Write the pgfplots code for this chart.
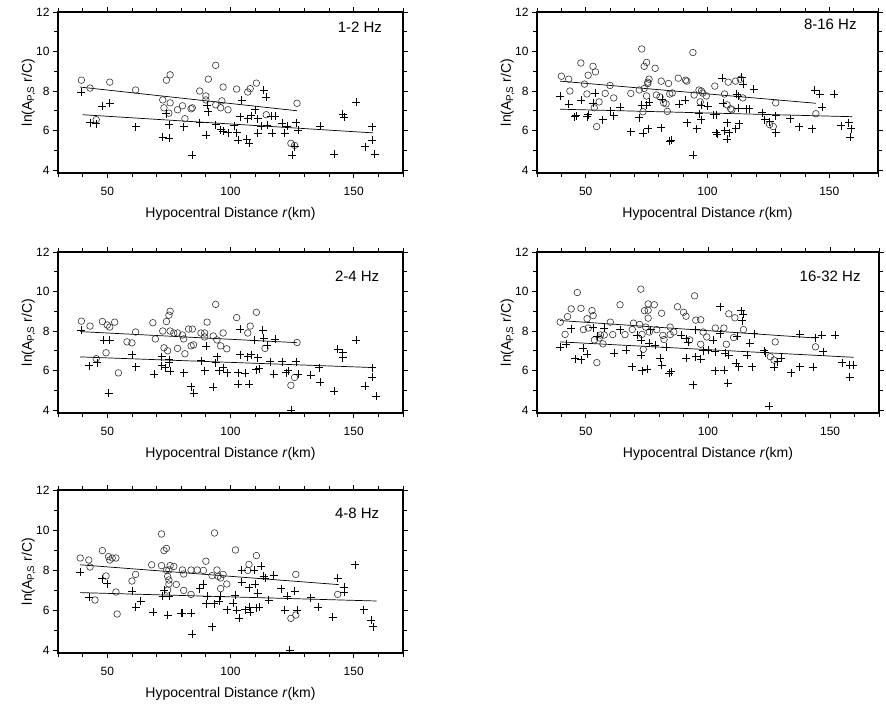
\documentclass[border=0pt]{standalone}
\usepackage{fontspec}
\setmainfont{Liberation Sans}
\usepackage{pgfplots}
\pgfplotsset{compat=1.18}

\pgfplotsset{
  panel/.style={
    scale only axis,
    width=345pt, height=161pt,
    xmin=30, xmax=170, ymin=3.85, ymax=12,
    xtick={50,100,150}, minor xtick={30,40,...,170},
    ytick={4,6,8,10,12}, minor ytick={5,7,9,11},
    tick align=outside,
    major tick length=5pt, minor tick length=4pt,
    axis line style={line width=1.1pt},
    every tick/.style={black, line width=0.8pt},
    tick label style={font=\fontsize{12}{14}\selectfont},
    xticklabel style={yshift=-6pt},
    /pgf/number format/assume math mode=true,
    label style={font=\fontsize{14}{16}\selectfont},
    xlabel={Hypocentral Distance \textit{r}(km)},
    ylabel={ln(A\textsubscript{P,S} r/C)},
    xlabel style={yshift=-4pt},
    ylabel style={yshift=-6pt},
    clip=false,
  },
  circ/.style={only marks, mark=o, mark size=3.3pt, black!80, mark options={line width=0.6pt}},
  crs/.style={only marks, mark=+, mark size=4pt, black, mark options={line width=0.6pt}},
  fitline/.style={no marks, black, line width=0.7pt},
}
\tikzset{hz/.style={font=\fontsize{15}{17}\selectfont, anchor=center}}

\begin{document}
\begin{tikzpicture}
\useasboundingbox (0pt,-706pt) rectangle (886pt,0pt);

% 1-2 Hz
\begin{axis}[panel, at={(58pt,-173pt)}, anchor=origin]
\addplot[circ] coordinates {
(39.5,8.55)(43,8.15)(45.5,6.55)(51,8.45)(61.5,8.05)(74,8.55)(75.5,8.82)(72.5,7.55)(73,7.15)(75.5,7.4)(75,6.88)(78.5,7.05)(80.5,7.25)(81.5,6.6)(84.5,7.15)(84,7.1)(87.5,8.0)(90,7.75)(90,7.55)(91,8.6)(94,9.3)(94,7.3)(96,7.15)(96.5,7.5)(97,8.2)(99,7.05)(102.5,8.1)(107,7.95)(108,8.12)(110.5,8.4)(114.5,6.8)(124.5,5.35)(126,5.25)(127,7.38)
};
\addplot[crs] coordinates {
(39.5,7.95)(43,6.4)(45.5,6.35)(48,7.25)(51,7.4)(61.5,6.2)(72.5,5.68)(75,5.6)(75,6.3)(74,6.85)(81,6.2)(84.5,4.75)(87.5,6.4)(90,5.75)(90.5,7.3)(91,6.95)(94,6.3)(96,6.05)(97,5.98)(99,5.9)(101.5,6.25)(102.5,5.9)(103,5.5)(104.5,7.55)(104,6.7)(106.5,5.58)(107.5,5.35)(107,6.6)(108.5,6.75)(110,7.05)(111,6.6)(112.5,6.23)(111,5.85)(113.5,8.05)(114.5,7.7)(115,6.27)(116.5,6.73)(118,6.73)(117,5.85)(121,6.36)(122,5.85)(123,6.23)(125,4.75)(126.5,6.4)(127.5,6.02)(126,5.18)(136.5,6.23)(142,4.81)(145.5,6.83)(146,6.66)(151,7.45)(154.5,5.18)(157.5,6.2)(157.5,5.52)(158.5,4.81)
};
\addplot[fitline] coordinates {(39,8.2) (127,7.0)};
\addplot[fitline] coordinates {(40,6.8) (158,5.88)};
\node[hz] at (rel axis cs:0.875,0.905) {1-2 Hz};
\end{axis}

% 8-16 Hz
\begin{axis}[panel, width=341pt, at={(537pt,-173pt)}, anchor=origin]
\addplot[circ] coordinates {
(40,8.75)(43,8.6)(43.5,8.0)(48,9.42)(49.5,8.35)(51,8.8)(50.5,7.85)(53,9.25)(54,8.97)(53.5,7.15)(55.5,7.45)(54.5,6.2)(58,7.88)(60,8.28)(61.5,7.65)(68.5,7.88)(72,8.05)(73,10.13)(74,9.25)(75,9.45)(74,8.13)(75.5,8.45)(76,8.6)(75.5,8.38)(75,7.75)(73.5,6.95)(78.5,9.15)(79,7.8)(80.5,7.7)(81,8.5)(82,7.4)(83,7.35)(84,8.38)(84.5,7.85)(85.5,7.9)(83.5,6.97)(88,8.65)(91,8.55)(91.5,8.5)(94,9.95)(94.5,7.8)(96.5,8.05)(97.5,8.0)(97,7.45)(99.5,7.75)(98,7.9)(103,8.25)(107,7.85)(108.5,8.45)(108,7.3)(109.5,7.1)(110,7.05)(111.5,8.5)(113.5,8.6)(114.5,7.65)(125.5,6.3)(127,6.2)(128,7.4)(144.5,6.85)
};
\addplot[crs] coordinates {
(39.5,7.75)(43,7.35)(45.5,6.7)(46,6.75)(48,7.55)(51,6.8)(50.5,6.7)(54,7.9)(53,7.4)(57,6.55)(60,7.0)(61.5,6.75)(64,7.2)(68.5,5.95)(72,6.65)(73,7.3)(73.5,5.85)(75.5,6.1)(76,7.42)(75,7.3)(81,6.15)(81.5,7.6)(84.5,5.48)(85,5.5)(88.5,7.35)(90.8,7.55)(91.5,6.4)(94,4.75)(95.5,6.1)(96.5,6.85)(97.3,7.3)(97.5,6.55)(100,7.25)(102.5,6.8)(103.5,6.8)(103.5,5.9)(104,5.8)(106,8.65)(106.5,7.4)(107,6.0)(108,5.55)(108,6.4)(109,5.9)(111.5,6.1)(112.5,7.15)(112,7.85)(113,6.35)(112.5,7.75)(114,8.7)(114.5,8.35)(116,7.1)(117,7.1)(119,8.1)(122.5,6.9)(123.5,6.55)(125.5,6.45)(128,6.75)(128,5.9)(134,6.6)(137.5,6.2)(143,6.1)(144,8.05)(146,7.85)(147,7.2)(152,7.85)(155,6.25)(158,6.4)(159,6.1)(158.5,5.65)
};
\addplot[fitline] coordinates {(39.5,8.5) (144.5,7.38)};
\addplot[fitline] coordinates {(39.5,7.08) (159.5,6.7)};
\node[hz] at (rel axis cs:0.86,0.925) {8-16 Hz};
\end{axis}

% 2-4 Hz
\begin{axis}[panel, at={(58pt,-413pt)}, anchor=origin]
\addplot[circ] coordinates {
(39.5,8.5)(43,8.25)(48,8.48)(50,8.3)(51,8.2)(53,8.45)(49.5,6.9)(45.5,6.6)(54.5,5.88)(58,7.45)(60,7.4)(61.5,7.95)(68.5,8.42)(69.5,7.6)(72.5,8.0)(73,7.15)(74,8.48)(74.5,7.0)(75.5,9.0)(75,8.8)(75.5,8.0)(77,7.9)(78.5,7.9)(78.5,7.12)(80.5,7.8)(81,7.6)(81.5,6.85)(83,8.1)(84.5,8.1)(84,7.25)(85,7.3)(88,7.9)(89.5,7.9)(89.5,7.7)(90.5,8.45)(93,7.75)(94,9.35)(94.5,7.55)(96,7.25)(97,7.9)(98.5,7.1)(102.5,8.68)(107,7.9)(108,8.25)(110.5,8.95)(114,7.12)(124.5,5.25)(127,7.42)(126,5.65)
};
\addplot[crs] coordinates {
(39.5,8.05)(42.5,6.25)(46,6.4)(48.5,7.55)(51,7.55)(50.5,4.85)(60,6.8)(61.5,6.2)(69,5.8)(72,6.7)(72,6.25)(73.5,6.15)(75,6.4)(75.5,5.98)(75,6.55)(81,5.9)(84,5.18)(85,4.85)(88,6.5)(90,7.25)(89.5,6.0)(93,5.15)(94,6.4)(94.5,6.7)(95.5,6.0)(97,6.15)(98.5,5.9)(103,5.9)(103,5.3)(104,8.1)(104,6.8)(106,5.85)(107,6.7)(107.5,5.3)(108.5,6.8)(109.5,7.55)(111,6.65)(110.5,6.05)(111.5,6.1)(113,8.05)(113.5,7.65)(115,7.3)(116,6.45)(117.5,5.8)(118,7.6)(121,6.45)(122.5,5.9)(123.5,6.0)(124.5,4.0)(126.5,6.45)(127.5,5.8)(132.5,5.75)(136,6.15)(136.5,5.4)(142,4.95)(143.5,7.1)(145.5,6.9)(145.5,6.65)(151,7.55)(154.5,5.2)(157.5,6.15)(157.5,5.65)(159,4.72)
};
\addplot[fitline] coordinates {(39,7.97) (127,7.41)};
\addplot[fitline] coordinates {(39,6.69) (158,6.15)};
\node[hz] at (rel axis cs:0.867,0.85) {2-4 Hz};
\end{axis}

% 16-32 Hz
\begin{axis}[panel, width=342pt, at={(537pt,-413pt)}, anchor=origin]
\addplot[circ] coordinates {
(39.5,8.45)(41.5,7.83)(42.5,8.73)(44,9.12)(46.5,9.95)(48,9.15)(49,8.07)(50.5,8.62)(51,8.15)(52.5,9.03)(53,8.78)(53.5,7.55)(54.5,6.4)(55.5,7.65)(56,7.8)(57,7.35)(57.5,7.8)(60,8.45)(61,7.82)(64,9.33)(66,7.82)(69,8.08)(69.5,8.4)(72,8.33)(72.5,10.12)(73,7.83)(73.5,7.07)(74,9.03)(75.5,9.05)(75.5,9.37)(75.5,8.65)(74.5,8.2)(76,7.95)(78,9.33)(79,8.07)(81,8.9)(81.5,7.78)(82,7.57)(84.5,8.2)(84.5,7.82)(86,7.95)(87.5,9.23)(90,8.95)(91,8.75)(92.5,7.55)(94.5,9.78)(95,8.55)(97,8.57)(97,7.33)(98,7.95)(99.5,7.7)(103,8.15)(106.5,8.15)(107.5,7.33)(108.5,8.87)(111,8.67)(110.5,7.67)(114.5,8.07)(125.5,6.7)(127.5,7.45)(127,6.53)(144,7.2)
};
\addplot[crs] coordinates {
(39.5,7.17)(42,7.33)(44,8.12)(45.5,6.6)(48,6.55)(49,7.12)(50.5,6.83)(53,8.17)(54.5,7.73)(57.5,8.15)(61.5,6.87)(64,8.07)(66.5,7.03)(69,6.2)(71,7.78)(72.5,6.78)(73,6.0)(75,6.07)(72.5,7.53)(76,7.37)(76.5,8.07)(78.5,7.28)(80.5,6.62)(81,6.28)(83,7.2)(84,5.87)(85,5.95)(89,7.78)(91,6.62)(91,7.62)(92,7.45)(94,5.28)(95,6.7)(95,8.07)(97,6.57)(98,7.0)(100,7.03)(102,7.53)(103,6.0)(103,6.95)(105,7.87)(105,9.23)(106.5,6.03)(107,6.87)(108,5.37)(108.5,6.78)(111.5,6.37)(112.5,6.2)(112,7.73)(113.5,9.03)(114,8.53)(114.5,8.87)(116,6.78)(117,7.37)(118,6.2)(119,7.87)(123,7.0)(123.5,6.9)(127,6.17)(128.5,6.45)(130,6.62)(134,5.9)(137.5,6.2)(137.5,7.83)(143,6.17)(144,7.67)(146.5,7.78)(152,7.78)(155,6.4)(158,6.28)(159.5,6.28)(158,5.67)(147,6.95)(125,4.2)
};
\addplot[fitline] coordinates {(39.5,8.53) (143.6,7.65)};
\addplot[fitline] coordinates {(39.5,7.45) (159.6,6.67)};
\node[hz] at (rel axis cs:0.857,0.85) {16-32 Hz};
\end{axis}

% 4-8 Hz
\begin{axis}[panel, height=163pt, at={(58pt,-653pt)}, anchor=origin]
\addplot[circ] coordinates {
(39,8.6)(42.5,8.5)(43,8.15)(45,6.5)(48,8.97)(49.5,7.7)(50.5,8.67)(51,8.5)(52,8.6)(53.5,8.6)(53.5,6.9)(54,5.8)(60,7.45)(61.5,7.78)(68,8.26)(72,9.8)(72,8.22)(73,8.97)(74,9.08)(74,7.98)(75,8.0)(75.5,8.22)(74.5,7.68)(75,7.3)(75,7.5)(74.5,7.0)(77,8.18)(78,7.28)(80.5,8.0)(81,7.8)(81,6.98)(84,8.0)(86.5,8.0)(84,6.78)(89,7.98)(90,8.44)(92.5,7.72)(93.5,9.85)(94.5,8.0)(95,7.68)(96,7.07)(96,7.6)(97,7.78)(98.5,7.3)(102,9.0)(107,7.98)(107.5,8.28)(110.5,8.72)(124.5,5.58)(126.5,5.75)(126.5,7.78)(143.5,6.78)
};
\addplot[crs] coordinates {
(39,7.9)(42.5,6.65)(48,7.57)(50,7.32)(60,6.95)(61.5,6.15)(63.5,6.43)(68.5,5.9)(72.5,6.7)(73,7.0)(74.5,5.75)(75,6.7)(80,5.85)(80.5,5.85)(84,5.85)(84.5,4.8)(87.5,7.07)(89,7.28)(90,6.32)(90.5,6.7)(92.5,5.17)(93.5,6.32)(95.5,6.45)(96,6.7)(98.5,6.02)(101,6.35)(102,6.73)(102.5,6.0)(103.5,5.58)(104.5,7.98)(104.5,7.4)(106,6.02)(107.5,7.12)(107.5,6.15)(108,5.9)(109.5,8.0)(110,7.28)(110.5,6.12)(111.5,6.15)(111,6.85)(112.5,8.18)(113.5,7.68)(114,7.6)(115.5,6.48)(117.5,7.73)(120.5,7.07)(122,6.0)(123,6.68)(124,4.0)(126,6.95)(127,6.0)(132.5,6.62)(135.5,6.15)(141.5,5.65)(143.5,7.6)(146,7.15)(146,6.9)(150.5,8.27)(154,6.02)(157,5.5)(158,5.17)
};
\addplot[fitline] coordinates {(39,8.26) (143.9,7.27)};
\addplot[fitline] coordinates {(39,6.87) (159.3,6.45)};
\node[hz] at (rel axis cs:0.867,0.854) {4-8 Hz};
\end{axis}
\end{tikzpicture}
\end{document}
